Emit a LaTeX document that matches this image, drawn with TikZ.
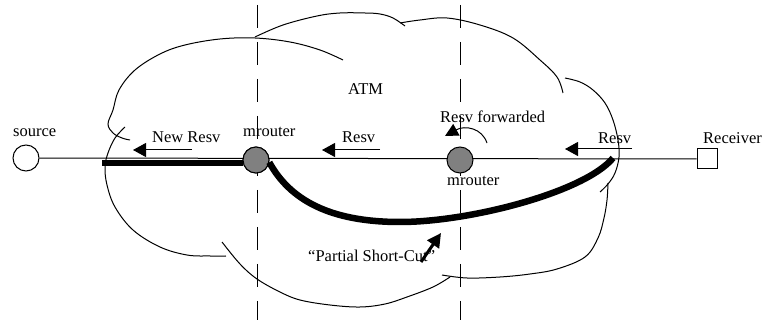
\documentclass[tikz,border=0pt]{standalone}
\usepackage{fontspec}
\setmainfont{Liberation Serif}
\usetikzlibrary{arrows.meta}
\begin{document}
\begin{tikzpicture}[x=1pt,y=-1pt,
  cloudline/.style={line width=1pt},
  thinline/.style={line width=1pt},
  thickline/.style={line width=6.5pt},
  dashline/.style={line width=1pt,dash pattern=on 23pt off 14pt},
  msg/.style={line width=1pt,-{Triangle[length=13pt,width=14pt]}},
  router/.style={circle,draw,line width=1pt,fill=gray,minimum size=26pt,inner sep=0pt},
  lbl/.style={inner sep=0pt,anchor=base west,font=\fontsize{16.5}{19}\selectfont}]
\useasboundingbox (0,0) rectangle (763,320);
% dashed separators
\coordinate (d1t) at (257,5); \coordinate (d1b) at (257,320);
\coordinate (d2t) at (460,5); \coordinate (d2b) at (460,320);
\draw[dashline] (d1t) -- (d1b);
\draw[dashline] (d2t) -- (d2b);
% cloud
\draw[cloudline] plot[smooth,tension=0.6] coordinates {(343,60) (320,50) (290,42) (255,38) (220,39) (185,45) (160,54) (135,70) (119,90) (113,110) (108,124) (113,133) (122,138) (130,140)};
\draw[cloudline] plot[smooth,tension=0.6] coordinates {(125,127) (115,138) (108,153) (105,167) (107,185) (115,207) (133,230) (160,247) (187,255) (210,256) (226,256)};
\draw[cloudline] plot[smooth,tension=0.6] coordinates {(222,242) (240,264) (257,279) (280,292) (300,300) (330,305) (360,307) (385,304) (407,297) (433,287) (450,277)};
\draw[cloudline] plot[smooth,tension=0.6] coordinates {(442,275) (467,278) (500,277) (530,274) (557,269) (585,257) (598,238) (604,218) (607,200) (608,183)};
\draw[cloudline] plot[smooth,tension=0.6] coordinates {(565,78) (580,82) (593,90) (605,103) (613,120) (618,140) (619,157) (615,173) (608,184) (600,192)};
\draw[cloudline] plot[smooth,tension=0.6] coordinates {(400,23) (420,20) (447,18) (480,25) (513,38) (540,60) (557,77) (563,93)};
\draw[cloudline] plot[smooth,tension=0.6] coordinates {(255,37) (283,25) (317,16) (340,13) (365,13) (380,14) (393,18) (405,26)};
% end nodes
\node[circle,draw,line width=1pt,fill=white,minimum size=26pt,inner sep=0pt] (src) at (26,158) {};
\node[draw,line width=1pt,fill=white,minimum size=20pt,inner sep=0pt] (rcv) at (707,159) {};
\draw[thinline] (src) -- (rcv);
% thick straight path
\coordinate (tl) at (102,163);
\node[router] (m1) at (256,160) {};
\draw[thickline] (tl) -- (tl -| m1.west);
\node[router] (m1) at (256,160) {};
\node[router] (m2) at (460,160) {};
% short-cut
\coordinate (ce) at (613,158);
\draw[thickline] (m1.-10) .. controls (290,200) and (330,222) .. (400,222)
  .. controls (470,222) and (585,192) .. (ce);
% message arrows
\coordinate (a1s) at (192,150); \coordinate (a1e) at (133,150);
\coordinate (a2s) at (380,150); \coordinate (a2e) at (322,150);
\coordinate (a3s) at (632,149); \coordinate (a3e) at (565,149);
\draw[msg] (a1s) -- (a1e);
\draw[msg] (a2s) -- (a2e);
\draw[msg] (a3s) -- (a3e);
\coordinate (fs) at (487,143); \coordinate (fe) at (445,136);
\draw[line width=1pt,-{Triangle[length=13pt,width=13pt]}] (fs) .. controls (482,128) and (465,125) .. (fe);
\coordinate (ps) at (421,262); \coordinate (pe) at (441,233);
\draw[line width=3pt,-{Triangle[length=14pt,width=14pt]}] (ps) -- (pe);
% labels
\node[lbl] (lsrc) at (13,137) {source};
\node[lbl] (lnew) at (152,143) {New Resv};
\node[lbl] (lm1) at (243,137) {mrouter};
\node[lbl] (lr2) at (342,143) {Resv};
\node[lbl] (latm) at (348,95) {ATM};
\node[lbl] (lfw) at (440,123) {Resv forwarded};
\node[lbl] (lr3) at (598,144) {Resv};
\node[lbl] (lrcv) at (703,144) {Receiver};
\node[lbl] (lm2) at (447,186) {mrouter};
\node[lbl] (lpsc) at (308,262) {“Partial Short-Cut”};
\end{tikzpicture}
\end{document}
